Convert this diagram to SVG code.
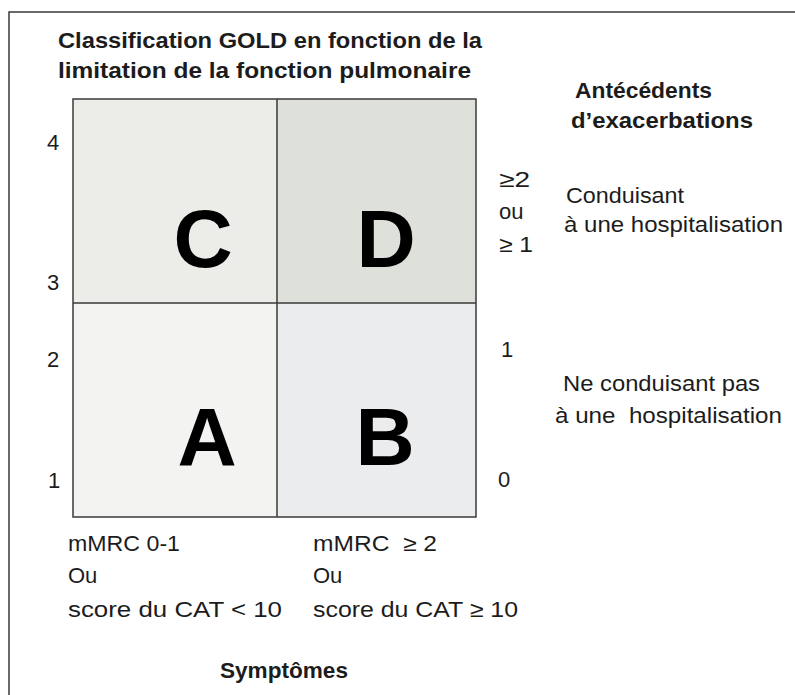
<svg xmlns="http://www.w3.org/2000/svg" width="795" height="695" viewBox="0 0 795 695">
<style>
  .t { font-family: "Liberation Sans", Arial, sans-serif; fill: #1c1c1c; }
  .reg { font-size: 22px; }
  .bold { font-size: 22px; font-weight: bold; }
  .big { font-size: 82px; font-weight: bold; fill: #000; text-anchor: middle; }
  .cell { stroke: none; }
  .line { stroke: #3a3a3a; stroke-width: 1.5; fill: none; }
</style>
<rect x="0" y="0" width="795" height="695" fill="#ffffff"/>
<g id="frame">
  <path class="line" d="M9,695 V12 H795" stroke-width="1.6"/>
</g>
<g id="title">
  <text class="t bold" x="58" y="48" textLength="424" lengthAdjust="spacingAndGlyphs">Classification GOLD en fonction de la</text>
  <text class="t bold" x="58" y="78" textLength="413" lengthAdjust="spacingAndGlyphs">limitation de la fonction pulmonaire</text>
</g>
<g id="cellC"><rect class="cell" x="73" y="99" width="204" height="204" fill="#ecede8"/><text class="t big" x="203" y="267">C</text></g>
<g id="cellD"><rect class="cell" x="277" y="99" width="199" height="204" fill="#dde1da"/><text class="t big" x="386" y="267">D</text></g>
<g id="cellA"><rect class="cell" x="73" y="303" width="204" height="214" fill="#f3f3f1"/><text class="t big" x="207" y="465">A</text></g>
<g id="cellB"><rect class="cell" x="277" y="303" width="199" height="214" fill="#ebecee"/><text class="t big" x="385" y="465">B</text></g>
<g id="connectors">
  <rect class="line" x="73" y="99" width="403" height="418"/>
  <line class="line" x1="277" y1="99" x2="277" y2="517"/>
  <line class="line" x1="73" y1="303" x2="476" y2="303"/>
</g>
<g id="yaxis">
  <text class="t reg" x="47" y="150">4</text>
  <text class="t reg" x="47" y="290">3</text>
  <text class="t reg" x="47" y="367">2</text>
  <text class="t reg" x="48" y="488">1</text>
</g>
<g id="exacerbations">
  <text class="t bold" x="575" y="98" textLength="137" lengthAdjust="spacingAndGlyphs">Antécédents</text>
  <text class="t bold" x="571" y="128" textLength="182" lengthAdjust="spacingAndGlyphs">d’exacerbations</text>
  <text class="t reg" x="499" y="187" textLength="31" lengthAdjust="spacingAndGlyphs">≥2</text>
  <text class="t reg" x="499" y="219">ou</text>
  <text class="t reg" x="499" y="252" textLength="34" lengthAdjust="spacingAndGlyphs">≥ 1</text>
  <text class="t reg" x="566" y="203" textLength="118" lengthAdjust="spacingAndGlyphs">Conduisant</text>
  <text class="t reg" x="564" y="232" textLength="219" lengthAdjust="spacingAndGlyphs">à une hospitalisation</text>
  <text class="t reg" x="501" y="357">1</text>
  <text class="t reg" x="563" y="391" textLength="197" lengthAdjust="spacingAndGlyphs">Ne conduisant pas</text>
  <text class="t reg" x="555" y="423" textLength="227" lengthAdjust="spacingAndGlyphs" xml:space="preserve">à une  hospitalisation</text>
  <text class="t reg" x="498" y="487">0</text>
</g>
<g id="symptoms">
  <text class="t reg" x="68" y="551" textLength="112" lengthAdjust="spacingAndGlyphs">mMRC 0-1</text>
  <text class="t reg" x="68" y="583">Ou</text>
  <text class="t reg" x="68" y="617" textLength="214" lengthAdjust="spacingAndGlyphs">score du CAT &lt; 10</text>
  <text class="t reg" x="313" y="551" textLength="124" lengthAdjust="spacingAndGlyphs" xml:space="preserve">mMRC  ≥ 2</text>
  <text class="t reg" x="313" y="583">Ou</text>
  <text class="t reg" x="313" y="617" textLength="205" lengthAdjust="spacingAndGlyphs">score du CAT ≥ 10</text>
  <text class="t bold" x="220" y="678" textLength="128" lengthAdjust="spacingAndGlyphs">Symptômes</text>
</g>
</svg>
